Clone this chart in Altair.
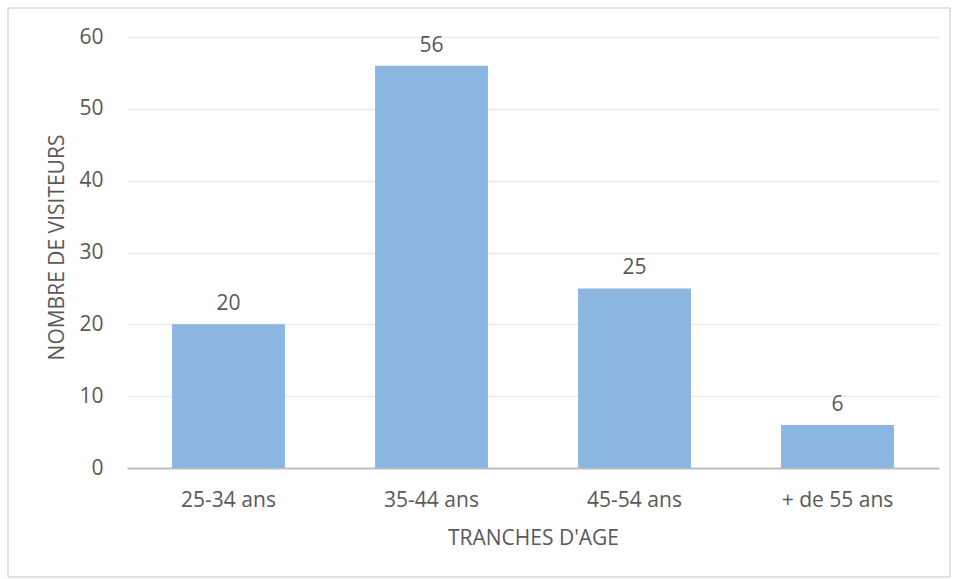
import altair as alt
import pandas as pd

categories = ["25-34 ans", "35-44 ans", "45-54 ans", "+ de 55 ans"]
values = [20, 56, 25, 6]

df = pd.DataFrame({"cat": categories, "val": values})

FONT = "Open Sans"
TXT = "#595959"
FS = 21

x = alt.X("cat:N", sort=categories,
          scale=alt.Scale(paddingInner=0.444, paddingOuter=0.222),
          axis=alt.Axis(title="TRANCHES D'AGE", labelAngle=0, ticks=False, grid=False,
                        domainColor="#BFBFBF", domainWidth=2,
                        labelPadding=21, titlePadding=17,
                        labelFontSize=FS, titleFontSize=FS,
                        labelColor=TXT, titleColor=TXT,
                        labelFont=FONT, titleFont=FONT, titleFontWeight="normal"))
y = alt.Y("val:Q", scale=alt.Scale(domain=[0, 60]),
          axis=alt.Axis(title="NOMBRE DE VISITEURS", values=[0, 10, 20, 30, 40, 50, 60],
                        domain=False, ticks=False, labelPadding=24, grid=True,
                        gridColor="#EBEBEB", gridWidth=1.5,
                        labelFontSize=FS, titleFontSize=FS,
                        labelColor=TXT, titleColor=TXT,
                        labelFont=FONT, titleFont=FONT, titleFontWeight="normal",
                        titleX=-70, titleY=210, titleAlign="center", titleBaseline="middle"))

bars = alt.Chart(df).mark_bar(color="#8BB6E1").encode(x=x, y=y)
labels = alt.Chart(df).mark_text(baseline="bottom", dy=-10, fontSize=FS, font=FONT, color=TXT).encode(
    x=alt.X("cat:N", sort=categories), y=alt.Y("val:Q"), text="val:Q")

BC = "#D9D9D9"
L, R, T, B = -119, 823, -29, 540
one = pd.DataFrame({"k": [0]})
def edge(x1, x2, y1, y2):
    return alt.Chart(one).mark_rule(color=BC, strokeWidth=1.5, clip=False).encode(
        x=alt.value(x1), x2=alt.value(x2), y=alt.value(y1), y2=alt.value(y2))
borders = [edge(L, R, T, T), edge(L, R, B, B), edge(L, L, T, B), edge(R, R, T, B)]

chart = alt.layer(bars, labels, *borders).properties(
    width=812, height=431,
    autosize=alt.AutoSizeParams(type="none"),
    padding={"left": 127, "top": 37, "right": 20, "bottom": 111},
    view=alt.ViewBackground(stroke="transparent", strokeWidth=0, strokeOpacity=0),
).configure_view(strokeOpacity=0, strokeWidth=0).configure(background="white")

chart.save("out.html", embed_options={"renderer": "svg", "actions": False})
